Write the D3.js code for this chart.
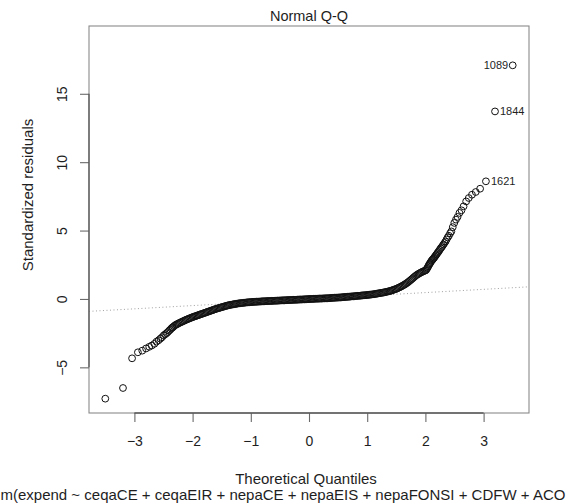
<!DOCTYPE html>
<html lang="en">
<head>
<meta charset="UTF-8">
<title>Normal Q-Q</title>
<script src="https://d3js.org/d3.v7.min.js"></script>
<style>
  body { margin: 0; background: #fff; }
  svg text { font-family: "Liberation Sans", Arial, Helvetica, sans-serif; fill: #1e1e1e; }
</style>
</head>
<body>
<svg id="chart" width="573" height="503"></svg>
<script>
// [theoretical quantile, standardized residual]
const lowerTail = [
  [-3.50, -7.29], [-3.196, -6.51], [-3.04, -4.34], [-2.94, -3.90], [-2.865, -3.78],
  [-2.80, -3.62], [-2.745, -3.50], [-2.70, -3.40], [-2.656, -3.28], [-2.62, -3.12],
  [-2.585, -3.02], [-2.553, -2.90], [-2.525, -2.80], [-2.496, -2.66], [-2.47, -2.58],
  [-2.446, -2.50], [-2.425, -2.42], [-2.403, -2.32], [-2.383, -2.24], [-2.364, -2.15],
  [-2.346, -2.09]
];

const band = [
  [-2.34, -2.06], [-2.32, -1.99], [-2.30, -1.92], [-2.28, -1.87], [-2.26, -1.83], [-2.24, -1.78],
  [-2.22, -1.74], [-2.20, -1.70], [-2.18, -1.66], [-2.16, -1.62], [-2.14, -1.58], [-2.12, -1.54],
  [-2.10, -1.50], [-2.08, -1.47], [-2.06, -1.43], [-2.04, -1.40], [-2.02, -1.36], [-2.00, -1.33],
  [-1.98, -1.30], [-1.96, -1.27], [-1.94, -1.24], [-1.92, -1.21], [-1.90, -1.18], [-1.88, -1.15],
  [-1.86, -1.12], [-1.84, -1.09], [-1.82, -1.06], [-1.80, -1.03], [-1.78, -1.00], [-1.76, -0.97],
  [-1.74, -0.94], [-1.72, -0.91], [-1.70, -0.88], [-1.68, -0.85], [-1.66, -0.82], [-1.64, -0.79],
  [-1.62, -0.76], [-1.60, -0.73], [-1.58, -0.70], [-1.56, -0.68], [-1.54, -0.65], [-1.52, -0.63],
  [-1.50, -0.60], [-1.48, -0.58], [-1.46, -0.55], [-1.44, -0.53], [-1.42, -0.50], [-1.40, -0.48],
  [-1.38, -0.46], [-1.36, -0.44], [-1.34, -0.42], [-1.32, -0.41], [-1.30, -0.39], [-1.28, -0.38],
  [-1.26, -0.36], [-1.24, -0.35], [-1.22, -0.33], [-1.20, -0.32], [-1.18, -0.31], [-1.16, -0.30],
  [-1.14, -0.29], [-1.12, -0.28], [-1.10, -0.27], [-1.08, -0.26], [-1.06, -0.25], [-1.04, -0.24],
  [-1.02, -0.24], [-1.00, -0.23], [-0.98, -0.22], [-0.96, -0.22], [-0.94, -0.21], [-0.92, -0.21],
  [-0.90, -0.20], [-0.88, -0.20], [-0.86, -0.19], [-0.84, -0.19], [-0.82, -0.18], [-0.80, -0.17],
  [-0.78, -0.17], [-0.76, -0.17], [-0.74, -0.16], [-0.72, -0.16], [-0.70, -0.15], [-0.68, -0.15],
  [-0.66, -0.15], [-0.64, -0.14], [-0.62, -0.14], [-0.60, -0.13], [-0.58, -0.13], [-0.56, -0.13],
  [-0.54, -0.12], [-0.52, -0.12], [-0.50, -0.11], [-0.48, -0.11], [-0.46, -0.10], [-0.44, -0.10],
  [-0.42, -0.10], [-0.40, -0.09], [-0.38, -0.09], [-0.36, -0.08], [-0.34, -0.08], [-0.32, -0.08],
  [-0.30, -0.07], [-0.28, -0.07], [-0.26, -0.06], [-0.24, -0.06], [-0.22, -0.06], [-0.20, -0.05],
  [-0.18, -0.05], [-0.16, -0.04], [-0.14, -0.04], [-0.12, -0.04], [-0.10, -0.03], [-0.08, -0.03],
  [-0.06, -0.02], [-0.04, -0.02], [-0.02, -0.01], [0.00, -0.01], [0.02, 0.00], [0.04, 0.00],
  [0.06, 0.00], [0.08, 0.01], [0.10, 0.01], [0.12, 0.02], [0.14, 0.02], [0.16, 0.02],
  [0.18, 0.03], [0.20, 0.03], [0.22, 0.03], [0.24, 0.04], [0.26, 0.04], [0.28, 0.05],
  [0.30, 0.05], [0.32, 0.05], [0.34, 0.06], [0.36, 0.06], [0.38, 0.07], [0.40, 0.08],
  [0.42, 0.08], [0.44, 0.09], [0.46, 0.09], [0.48, 0.10], [0.50, 0.10], [0.52, 0.11],
  [0.54, 0.11], [0.56, 0.12], [0.58, 0.13], [0.60, 0.14], [0.62, 0.14], [0.64, 0.15],
  [0.66, 0.16], [0.68, 0.16], [0.70, 0.17], [0.72, 0.18], [0.74, 0.19], [0.76, 0.19],
  [0.78, 0.20], [0.80, 0.21], [0.82, 0.22], [0.84, 0.23], [0.86, 0.23], [0.88, 0.24],
  [0.90, 0.25], [0.92, 0.26], [0.94, 0.27], [0.96, 0.27], [0.98, 0.28], [1.00, 0.29],
  [1.02, 0.30], [1.04, 0.31], [1.06, 0.32], [1.08, 0.33], [1.10, 0.34], [1.12, 0.35],
  [1.14, 0.37], [1.16, 0.38], [1.18, 0.40], [1.20, 0.41], [1.22, 0.43], [1.24, 0.44],
  [1.26, 0.46], [1.28, 0.47], [1.30, 0.49], [1.32, 0.51], [1.34, 0.53], [1.36, 0.55],
  [1.38, 0.57], [1.40, 0.59], [1.42, 0.62], [1.44, 0.65], [1.46, 0.68], [1.48, 0.71],
  [1.50, 0.74], [1.52, 0.78], [1.54, 0.82], [1.56, 0.86], [1.58, 0.90], [1.60, 0.95],
  [1.62, 1.00], [1.64, 1.05], [1.66, 1.10], [1.68, 1.16], [1.70, 1.22], [1.72, 1.29],
  [1.74, 1.36], [1.76, 1.43], [1.78, 1.50], [1.80, 1.58], [1.82, 1.65], [1.84, 1.72],
  [1.86, 1.78], [1.88, 1.83], [1.90, 1.88], [1.92, 1.93], [1.94, 1.97], [1.96, 2.01],
  [1.98, 2.05], [2.00, 2.08]
];

const upperTail = [
  [2.012, 2.12], [2.024, 2.20], [2.036, 2.28], [2.048, 2.38], [2.06, 2.48], [2.07, 2.55],
  [2.081, 2.62], [2.092, 2.70], [2.104, 2.78], [2.115, 2.84], [2.127, 2.90], [2.139, 2.96],
  [2.151, 3.02], [2.164, 3.10], [2.177, 3.18], [2.19, 3.25], [2.204, 3.34], [2.218, 3.42],
  [2.232, 3.50], [2.247, 3.60], [2.262, 3.70], [2.278, 3.78], [2.294, 3.88], [2.31, 3.98],
  [2.328, 4.09], [2.346, 4.20], [2.364, 4.35], [2.383, 4.50], [2.403, 4.62], [2.425, 4.80],
  [2.446, 4.94], [2.47, 5.25], [2.496, 5.56], [2.525, 5.80], [2.553, 6.00], [2.585, 6.29],
  [2.62, 6.48], [2.656, 6.77], [2.70, 7.13], [2.745, 7.38], [2.80, 7.62], [2.865, 7.82],
  [2.94, 8.06], [3.04, 8.60], [3.196, 13.71], [3.50, 17.08]
];

// labelled observations: [id, quantile, residual, side]
const idLabels = [
  ["1089", 3.50, 17.08, "left"],
  ["1844", 3.196, 13.71, "right"],
  ["1621", 3.04, 8.60, "right"]
];

// qqline passes through the quartile pairs
const qqQuartiles = [[-0.674, -0.17], [0.674, 0.15]];

const xTicks = [-3, -2, -1, 0, 1, 2, 3];
const yTicks = [-5, 0, 5, 10, 15];

const title = "Normal Q-Q";
const xLabel = "Theoretical Quantiles";
const yLabel = "Standardized residuals";
// the part of the model call that is visible in the picture
const subCaption = "m(expend ~ ceqaCE + ceqaEIR + nepaCE + nepaEIS + nepaFONSI + CDFW + ACO";

const svg = d3.select("#chart");
const plot = {left: 89, right: 529, top: 26, bottom: 413};

const points = lowerTail.concat(band, upperTail);

// R style limits: 7.5% head room for labels on y, then 4% padding on both axes
let xr = d3.extent(points, d => d[0]);
let yr = d3.extent(points, d => d[1]);
yr[1] += (yr[1] - yr[0]) * 0.075;
const pad = r => [r[0] - (r[1] - r[0]) * 0.04, r[1] + (r[1] - r[0]) * 0.04];

const x = d3.scaleLinear().domain(pad(xr)).range([plot.left, plot.right]);
const y = d3.scaleLinear().domain(pad(yr)).range([plot.bottom, plot.top]);

svg.append("rect").attr("width", 573).attr("height", 503).attr("fill", "#fff");

// dotted reference line
const slope = (qqQuartiles[1][1] - qqQuartiles[0][1]) / (qqQuartiles[1][0] - qqQuartiles[0][0]);
const icpt = qqQuartiles[0][1] - slope * qqQuartiles[0][0];
const xd = x.domain();
svg.append("line")
    .attr("x1", x(xd[0])).attr("y1", y(icpt + slope * xd[0]))
    .attr("x2", x(xd[1])).attr("y2", y(icpt + slope * xd[1]))
    .attr("stroke", "#a0a0a0")
    .attr("stroke-width", 1)
    .attr("stroke-dasharray", "1,2.5");

// points
svg.append("g")
    .selectAll("circle")
    .data(points)
    .enter()
    .append("circle")
    .attr("cx", d => x(d[0]))
    .attr("cy", d => y(d[1]))
    .attr("r", 3.4)
    .attr("fill", "none")
    .attr("stroke", "#111")
    .attr("stroke-width", 1);

// id labels
svg.append("g")
    .selectAll("text")
    .data(idLabels)
    .enter()
    .append("text")
    .attr("x", d => x(d[1]) + (d[3] === "left" ? -4.5 : 5))
    .attr("y", d => y(d[2]))
    .attr("dy", "0.36em")
    .attr("text-anchor", d => d[3] === "left" ? "end" : "start")
    .style("font-size", "11px")
    .text(d => d[0]);

// box
svg.append("rect")
    .attr("x", plot.left).attr("y", plot.top)
    .attr("width", plot.right - plot.left).attr("height", plot.bottom - plot.top)
    .attr("fill", "none")
    .attr("stroke", "#8a8a8a")
    .attr("stroke-width", 1.1);

// x axis
const gx = svg.append("g")
    .attr("transform", `translate(0,${plot.bottom})`)
    .call(d3.axisBottom(x).tickValues(xTicks).tickFormat(d3.format("d")).tickSize(9).tickPadding(14));
gx.select(".domain").remove();
gx.selectAll(".tick line").attr("stroke", "#6a6a6a").attr("stroke-width", 1.1);
gx.selectAll(".tick text").style("font-size", "14px");
gx.append("line")
    .attr("x1", x(xTicks[0])).attr("x2", x(xTicks[xTicks.length - 1]))
    .attr("stroke", "#5a5a5a").attr("stroke-width", 1.3);

// y axis, labels parallel to the axis
const gy = svg.append("g")
    .attr("transform", `translate(${plot.left},0)`)
    .call(d3.axisLeft(y).tickValues(yTicks).tickFormat(d3.format("d")).tickSize(9));
gy.select(".domain").remove();
gy.selectAll(".tick line").attr("stroke", "#6a6a6a").attr("stroke-width", 1.1);
gy.selectAll(".tick text")
    .attr("x", null).attr("dy", null)
    .attr("text-anchor", "middle")
    .attr("transform", "translate(-22,0) rotate(-90)")
    .style("font-size", "14px");
gy.append("line")
    .attr("y1", y(yTicks[0])).attr("y2", y(yTicks[yTicks.length - 1]))
    .attr("stroke", "#5a5a5a").attr("stroke-width", 1.3);

// titles
svg.append("text")
    .attr("x", (plot.left + plot.right) / 2).attr("y", 21)
    .attr("text-anchor", "middle")
    .style("font-size", "14.5px")
    .text(title);

svg.append("text")
    .attr("x", 306).attr("y", 483.5)
    .attr("text-anchor", "middle")
    .style("font-size", "15px")
    .text(xLabel);

svg.append("text")
    .attr("x", 0.5).attr("y", 500)
    .style("font-size", "15px")
    .text(subCaption);

svg.append("text")
    .attr("transform", "translate(33,195) rotate(-90)")
    .attr("text-anchor", "middle")
    .style("font-size", "15px")
    .text(yLabel);
</script>
</body>
</html>
